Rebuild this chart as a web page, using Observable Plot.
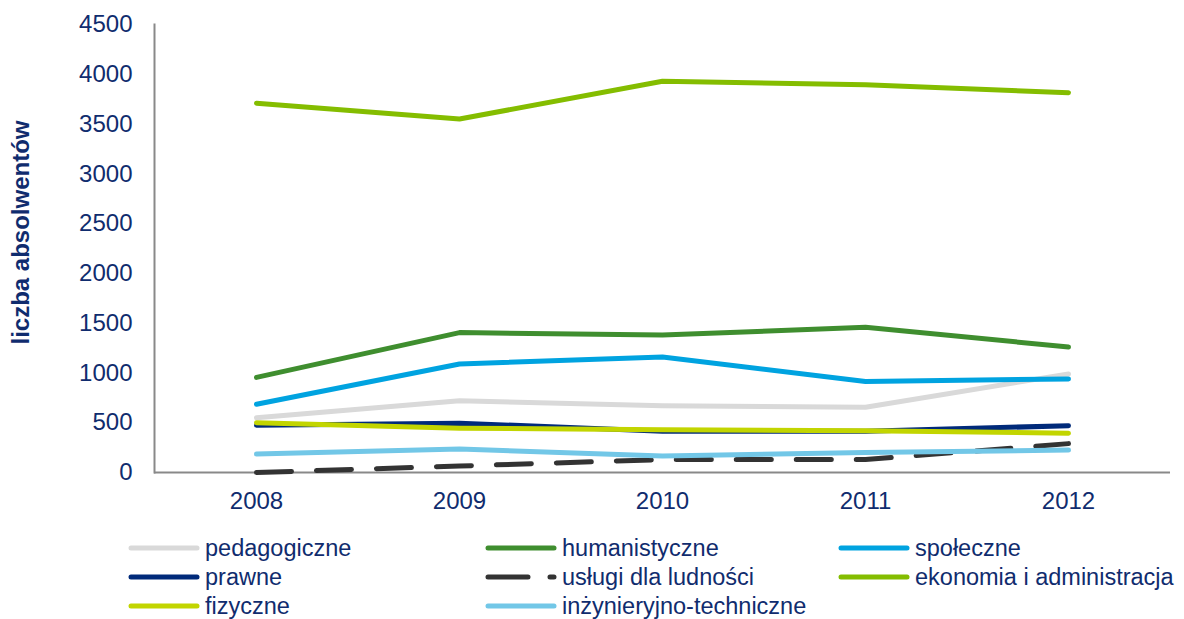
<!DOCTYPE html>
<html>
<head>
<meta charset="utf-8">
<script src="https://cdn.jsdelivr.net/npm/d3@7"></script>
<script src="https://cdn.jsdelivr.net/npm/@observablehq/plot@0.6"></script>
<style>
  html, body { margin: 0; padding: 0; background: #fff; }
  #wrap { position: relative; width: 1184px; height: 619px; overflow: hidden; font-family: "Liberation Sans", Arial, sans-serif; color: #102c6e; }
  #chart { position: absolute; left: 0; top: 0; }
  #legend { position: absolute; left: 128px; top: 534px; display: grid; grid-template-columns: 357px 353px 260px; row-gap: 1px; }
  .item { display: flex; align-items: center; height: 28px; font-size: 23.5px; white-space: nowrap; }
  .item svg { margin-right: 5px; flex: none; }
</style>
</head>
<body>
<div id="wrap"><div id="chart"></div><div id="legend"></div></div>
<script>
const years = ["2008", "2009", "2010", "2011", "2012"];
const seriesNames = ["pedagogiczne", "humanistyczne", "społeczne", "prawne", "usługi dla ludności", "ekonomia i administracja", "fizyczne", "inżynieryjno-techniczne"];
const seriesColors = ["#d9d9d9", "#3f8e2f", "#00a3e0", "#002a7a", "#333333", "#84bd00", "#c2d500", "#72c7e7"];
const seriesDash = [null, null, null, null, "35,25", null, null, null];
const pedagogiczne = [550, 720, 670, 655, 990];
const humanistyczne = [955, 1405, 1380, 1460, 1260];
const spoleczne = [685, 1090, 1160, 915, 940];
const prawne = [475, 495, 415, 415, 470];
const uslugi = [0, 65, 130, 130, 290];
const ekonomia = [3710, 3550, 3930, 3895, 3815];
const fizyczne = [500, 445, 430, 420, 395];
const inzynieryjno = [185, 235, 165, 200, 225];
const yTicks = [0, 500, 1000, 1500, 2000, 2500, 3000, 3500, 4000, 4500];
const yTitle = "liczba absolwentów";

const allValues = [pedagogiczne, humanistyczne, spoleczne, prawne, uslugi, ekonomia, fizyczne, inzynieryjno];

const lineMarks = allValues.map((vals, i) =>
  Plot.lineY(years.map((y, j) => ({year: y, value: vals[j]})), {
    x: "year", y: "value",
    stroke: seriesColors[i], strokeWidth: 5,
    strokeLinecap: "round", strokeLinejoin: "round",
    strokeDasharray: seriesDash[i] || undefined
  })
);

const chart = Plot.plot({
  width: 1184,
  height: 520,
  marginLeft: 154,
  marginRight: 14,
  marginTop: 24,
  marginBottom: 48,
  style: {fontFamily: "'Liberation Sans', Arial, sans-serif", fontSize: "24px", color: "#102c6e", background: "transparent"},
  x: {type: "point", domain: years, padding: 0.5},
  y: {domain: [0, 4500]},
  marks: [
    Plot.ruleY([0], {stroke: "#898989", strokeWidth: 2}),
    Plot.frame({anchor: "left", stroke: "#898989", strokeWidth: 2}),
    Plot.axisX({tickSize: 0, tickPadding: 19, fontSize: 24, label: null}),
    Plot.axisY({ticks: yTicks, tickFormat: d => String(d), tickSize: 0, tickPadding: 22, fontSize: 24, label: null}),
    Plot.text([yTitle], {text: d => d, frameAnchor: "left", rotate: -90, dx: -133, dy: -16, fontSize: 24, fontWeight: "bold", fill: "#102c6e", textAnchor: "middle", lineAnchor: "middle"}),
    ...lineMarks
  ]
});
document.getElementById("chart").appendChild(chart);

const legend = document.getElementById("legend");
seriesNames.forEach((name, i) => {
  const item = document.createElement("div");
  item.className = "item";
  const dash = seriesDash[i] ? ` stroke-dasharray="40,22"` : "";
  item.innerHTML = `<svg width="72" height="10"><line x1="3" y1="5" x2="69" y2="5" stroke="${seriesColors[i]}" stroke-width="5" stroke-linecap="round"${dash}/></svg><span>${name}</span>`;
  legend.appendChild(item);
});
</script>
</body>
</html>
